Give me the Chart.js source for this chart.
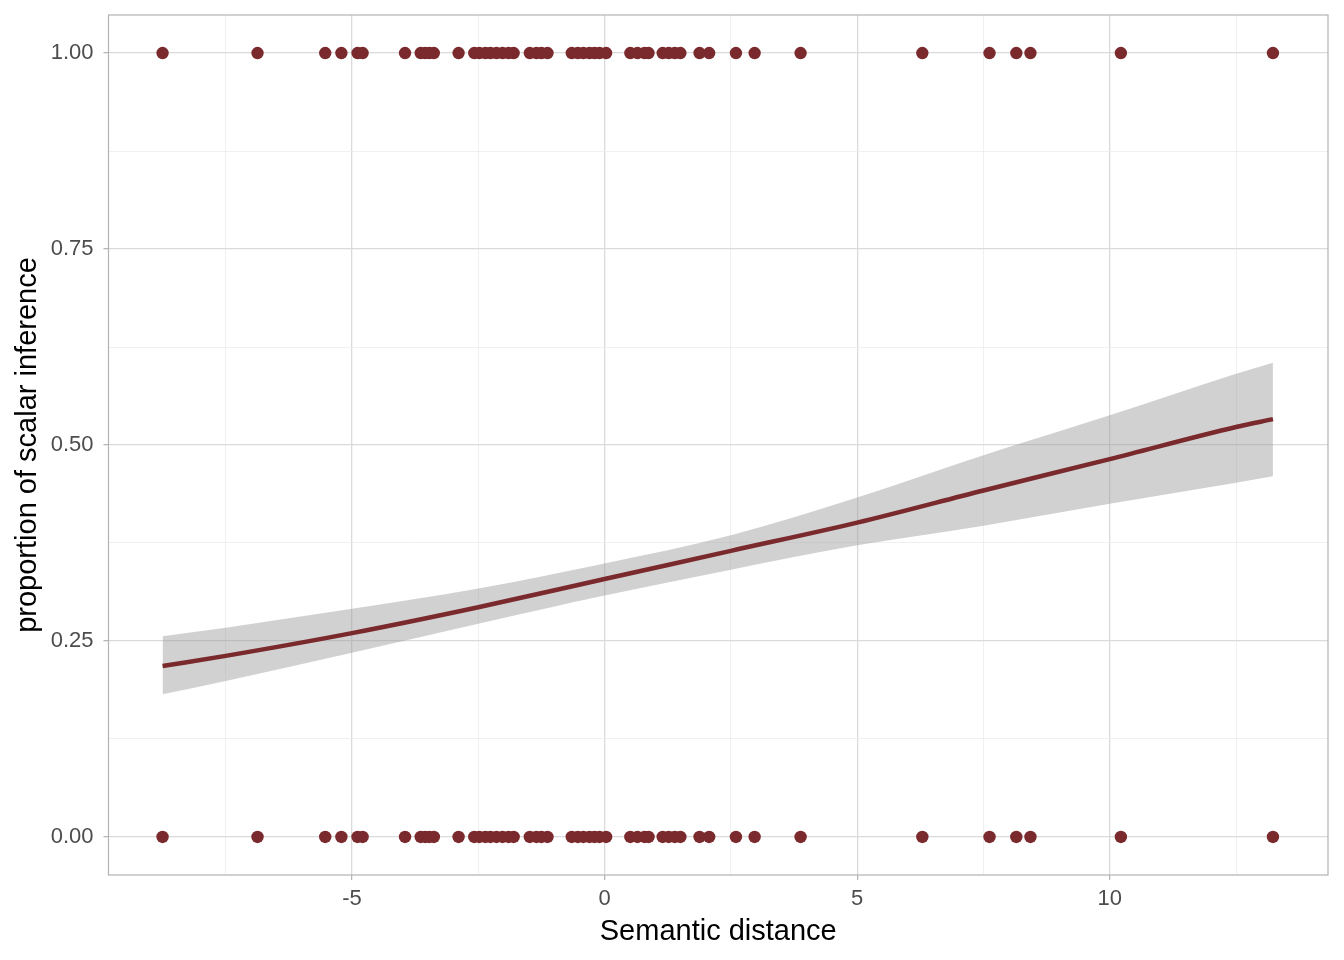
<!DOCTYPE html>
<html>
<head>
<meta charset="utf-8">
<script src="https://cdn.jsdelivr.net/npm/chart.js@4.4.1/dist/chart.umd.min.js"></script>
<style>
  html, body { margin: 0; padding: 0; background: #ffffff; }
  #wrap { width: 1344px; height: 960px; }
</style>
</head>
<body>
<div id="wrap"><canvas id="chart" width="1344" height="960"></canvas></div>
<script>
// semantic distance of each item, outcome = 1 (inference drawn)
const distYes = [-8.75, -6.87, -5.53, -5.21, -4.89, -4.79, -3.95, -3.64, -3.55, -3.47, -3.38,
  -2.89, -2.58, -2.48, -2.36, -2.26, -2.14, -2.02, -1.90, -1.80, -1.48, -1.35, -1.25, -1.13,
  -0.65, -0.53, -0.42, -0.30, -0.20, -0.10, 0.03, 0.51, 0.65, 0.79, 0.87, 1.15, 1.27, 1.39, 1.50,
  1.88, 2.07, 2.60, 2.97, 3.88, 6.29, 7.62, 8.15, 8.43, 10.22, 13.23];
// outcome = 0
const distNo = [-8.75, -6.87, -5.53, -5.21, -4.89, -4.79, -3.95, -3.64, -3.55, -3.47, -3.38,
  -2.89, -2.58, -2.48, -2.36, -2.26, -2.14, -2.02, -1.90, -1.80, -1.48, -1.35, -1.25, -1.13,
  -0.65, -0.53, -0.42, -0.30, -0.20, -0.10, 0.03, 0.51, 0.65, 0.79, 0.87, 1.15, 1.27, 1.39, 1.50,
  1.88, 2.07, 2.60, 2.97, 3.88, 6.29, 7.62, 8.15, 8.43, 10.22, 13.23];

// logistic fit + confidence band
const fitX  = [-8.75, -7.5, -5, -2.5, 0, 2.5, 5, 7.5, 10, 12.5, 13.23];
const fitY  = [0.218, 0.231, 0.260, 0.293, 0.329, 0.365, 0.401, 0.442, 0.482, 0.523, 0.533];
const fitLo = [0.182, 0.199, 0.235, 0.272, 0.308, 0.341, 0.372, 0.397, 0.425, 0.452, 0.460];
const fitHi = [0.256, 0.267, 0.291, 0.317, 0.349, 0.385, 0.433, 0.487, 0.538, 0.591, 0.605];

const xMajor = [-5, 0, 5, 10];
const xMinor = [-7.5, -2.5, 2.5, 7.5, 12.5];
const yMajor = [0, 0.25, 0.5, 0.75, 1];
const yMinor = [0.125, 0.375, 0.625, 0.875];

const red = '#7a2a2d';
const pts = (xs, y) => xs.map(x => ({ x: x, y: y }));
const curve = (ys) => fitX.map((x, i) => ({ x: x, y: ys[i] }));

const isMajor = (list, v) => list.some(m => Math.abs(m - v) < 1e-6);

Chart.defaults.font.family = '"Liberation Sans", Arial, Helvetica, sans-serif';

const panelBorder = {
  id: 'panelBorder',
  afterDraw(chart) {
    const { ctx, chartArea: a } = chart;
    ctx.save();
    ctx.strokeStyle = '#b3b3b3';
    ctx.lineWidth = 1.2;
    ctx.strokeRect(a.left, a.top, a.right - a.left, a.bottom - a.top);
    ctx.restore();
  }
};

new Chart(document.getElementById('chart').getContext('2d'), {
  type: 'scatter',
  data: {
    datasets: [
      {
        data: curve(fitLo),
        showLine: true, pointRadius: 0, borderWidth: 0,
        borderColor: 'rgba(0,0,0,0)', fill: false,
        cubicInterpolationMode: 'monotone', order: 3
      },
      {
        data: curve(fitHi),
        showLine: true, pointRadius: 0, borderWidth: 0,
        borderColor: 'rgba(0,0,0,0)',
        backgroundColor: 'rgba(153,153,153,0.45)', fill: '-1',
        cubicInterpolationMode: 'monotone', order: 2
      },
      {
        data: curve(fitY),
        showLine: true, pointRadius: 0, borderWidth: 4.5,
        borderColor: red, cubicInterpolationMode: 'monotone', order: 1
      },
      {
        data: pts(distYes, 1),
        pointRadius: 6.2, pointBackgroundColor: red, pointBorderWidth: 0, order: 0
      },
      {
        data: pts(distNo, 0),
        pointRadius: 6.2, pointBackgroundColor: red, pointBorderWidth: 0, order: 0
      }
    ]
  },
  options: {
    responsive: false,
    animation: false,
    layout: { padding: { left: 0, right: 16, top: 15, bottom: 0 } },
    plugins: { legend: { display: false }, tooltip: { enabled: false } },
    scales: {
      x: {
        type: 'linear',
        min: -9.82, max: 14.32,
        afterFit: function(scale) {
          scale.height = 85;
          scale.paddingLeft = 0;
          scale.paddingRight = 0;
        },
        afterBuildTicks: function(scale) {
          scale.ticks = xMinor.concat(xMajor).sort((a, b) => a - b).map(v => ({ value: v }));
        },
        border: { display: false },
        grid: {
          color: ctx => isMajor(xMajor, ctx.tick.value) ? '#dadada' : '#ececec',
          lineWidth: ctx => isMajor(xMajor, ctx.tick.value) ? 1.3 : 0.8,
          tickColor: ctx => isMajor(xMajor, ctx.tick.value) ? '#b3b3b3' : 'rgba(0,0,0,0)',
          tickLength: 5,
          tickWidth: 1.2
        },
        ticks: {
          autoSkip: false, maxRotation: 0,
          padding: 6,
          color: '#4d4d4d',
          font: { size: 22 },
          callback: v => isMajor(xMajor, v) ? String(v) : ''
        },
        title: {
          display: true, text: 'Semantic distance',
          color: '#000000', font: { size: 29 },
          padding: { top: 0, bottom: 11 }
        }
      },
      y: {
        type: 'linear',
        min: -0.0485, max: 1.0485,
        afterFit: function(scale) {
          scale.width = 108.5;
          scale.paddingTop = 0;
          scale.paddingBottom = 0;
        },
        afterBuildTicks: function(scale) {
          scale.ticks = yMinor.concat(yMajor).sort((a, b) => a - b).map(v => ({ value: v }));
        },
        border: { display: false },
        grid: {
          color: ctx => isMajor(yMajor, ctx.tick.value) ? '#dadada' : '#ececec',
          lineWidth: ctx => isMajor(yMajor, ctx.tick.value) ? 1.3 : 0.8,
          tickColor: ctx => isMajor(yMajor, ctx.tick.value) ? '#b3b3b3' : 'rgba(0,0,0,0)',
          tickLength: 5,
          tickWidth: 1.2
        },
        ticks: {
          autoSkip: false,
          padding: 10,
          color: '#4d4d4d',
          font: { size: 22 },
          callback: v => isMajor(yMajor, v) ? v.toFixed(2) : ''
        },
        title: {
          display: true, text: 'proportion of scalar inference',
          color: '#000000', font: { size: 29 },
          padding: { top: 11, bottom: 0 }
        }
      }
    }
  },
  plugins: [panelBorder]
});
</script>
</body>
</html>
